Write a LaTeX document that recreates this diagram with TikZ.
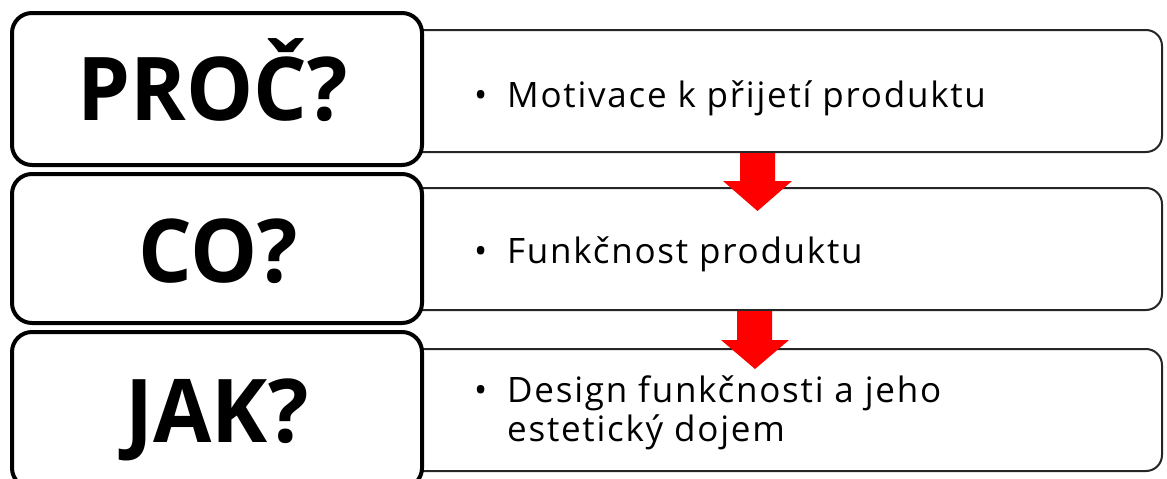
\documentclass[tikz,border=0pt]{standalone}
\usepackage{fontspec}
\setmainfont{Open Sans}
\newfontfamily\bodyfont[LetterSpace=5]{Open Sans}
\newfontfamily\headfont[FakeStretch=0.96]{Open Sans Bold}
\usetikzlibrary{calc}
\begin{document}
\begin{tikzpicture}[x=1pt,y=-1pt,
  leftbox/.style={draw=black,line width=4pt,fill=white,rounded corners=20pt,inner sep=0pt,minimum width=410pt},
  rightbox/.style={draw=black!85,line width=2pt,fill=white,rounded corners=16pt,inner sep=0pt,minimum width=762pt,minimum height=122pt},
  head/.style={anchor=base,inner sep=0pt,font=\headfont\fontsize{88}{88}\selectfont},
  body/.style={anchor=base west,inner sep=0pt,font=\bodyfont\fontsize{35}{40}\selectfont,align=left},
  redarrow/.style={fill=red,draw=none}
]
\useasboundingbox (0,0) rectangle (1167,479);
% right boxes
\node[rightbox] (r1) at (781,91) {};
\node[rightbox] (r2) at (781,249) {};
\node[rightbox] (r3) at (781,410) {};
% left boxes
\node[leftbox,minimum height=152pt] (l1) at (217,89) {};
\node[leftbox,minimum height=149pt] (l2) at (217,248.5) {};
\node[leftbox,minimum height=156pt] (l3) at (217,410) {};
% headings
\node[head] (t1) at (213,120) {PROČ?};
\node[head] (t2) at (218,282) {CO?};
\node[head] (t3) at (217,442) {JAK?};
% body texts
\node[body] (b1) at (474,107) {\makebox[33pt][l]{•}Motivace k přijetí produktu};
\node[body] (b2) at (474,263) {\makebox[33pt][l]{•}Funkčnost produktu};
\node[body] (b3) at (474,402) {\makebox[33pt][l]{•}\begin{tabular}[t]{@{}l@{}}Design funkčnosti a jeho\\[-1pt]estetický dojem\end{tabular}};
% red arrows between right boxes
\fill[redarrow] ($(r1.south)+(-41,0)$) -- ($(r1.south)+(-6,0)$) -- ($(r1.south)+(-6,28)$) -- ($(r1.south)+(11,28)$)
  -- ($(r1.south)+(-23.5,58)$) -- ($(r1.south)+(-58,28)$) -- ($(r1.south)+(-41,28)$) -- cycle;
\fill[redarrow] ($(r2.south)+(-44,0)$) -- ($(r2.south)+(-9,0)$) -- ($(r2.south)+(-9,29)$) -- ($(r2.south)+(8,29)$)
  -- ($(r2.south)+(-26,58)$) -- ($(r2.south)+(-60,29)$) -- ($(r2.south)+(-44,29)$) -- cycle;
\end{tikzpicture}
\end{document}
